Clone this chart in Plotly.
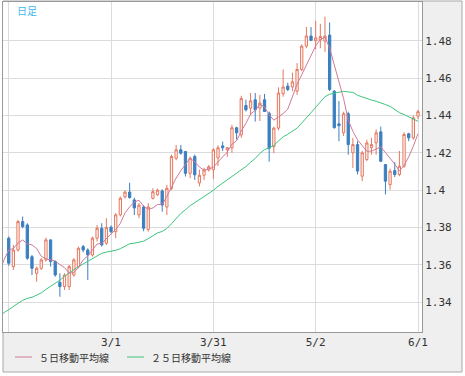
import numpy as np
import pandas as pd
import plotly.graph_objects as go

# ---- data (EUR/USD daily) ----
open_ = [1.3743,1.3591,1.3680,1.3832,1.3814,1.3644,1.3555,1.3582,1.3627,1.3734,
         1.3618,1.3507,1.3484,1.3484,1.3546,1.3591,1.3698,1.3680,1.3653,1.3743,
         1.3796,1.3716,1.3802,1.3778,1.3868,1.3964,1.3990,1.3948,1.3868,1.3910,
         1.3790,1.3956,1.3975,1.3996,1.3910,1.4010,1.4171,1.4216,1.4207,1.4090,
         1.4180,1.4039,1.4080,1.4108,1.4110,1.4173,1.4237,1.4216,1.4227,1.4334,
         1.4296,1.4453,1.4439,1.4484,1.4439,1.4484,1.4412,1.4233,1.4332,1.4516,
         1.4557,1.4552,1.4530,1.4646,1.4771,1.4825,1.4800,1.4805,1.4798,1.4830,
         1.4530,1.4355,1.4307,1.4409,1.4200,1.4244,1.4075,1.4164,1.4227,1.4253,
         1.4312,1.4137,1.4030,1.4105,1.4084,1.4128,1.4302,1.4280,1.4396]
high = [1.3752,1.3707,1.3841,1.3859,1.3823,1.3653,1.3591,1.3636,1.3746,1.3737,
        1.3623,1.3555,1.3555,1.3600,1.3636,1.3698,1.3707,1.3689,1.3752,1.3814,
        1.3823,1.3850,1.3811,1.3877,1.3966,1.3999,1.4040,1.3960,1.3930,1.3920,
        1.3930,1.4010,1.4008,1.4005,1.4028,1.4190,1.4242,1.4242,1.4210,1.4180,
        1.4190,1.4110,1.4120,1.4135,1.4225,1.4240,1.4260,1.4230,1.4350,1.4340,
        1.4505,1.4484,1.4520,1.4520,1.4510,1.4515,1.4420,1.4340,1.4550,1.4646,
        1.4575,1.4629,1.4680,1.4780,1.4873,1.4873,1.4906,1.4890,1.4929,1.4897,
        1.4535,1.4477,1.4420,1.4420,1.4280,1.4262,1.4210,1.4270,1.4280,1.4325,
        1.4340,1.4140,1.4115,1.4150,1.4210,1.4310,1.4307,1.4400,1.4430]
low = [1.3596,1.3573,1.3671,1.3796,1.3627,1.3546,1.3510,1.3573,1.3618,1.3591,
       1.3537,1.3430,1.3466,1.3466,1.3537,1.3582,1.3668,1.3519,1.3644,1.3725,
       1.3698,1.3707,1.3769,1.3743,1.3859,1.3955,1.3955,1.3867,1.3850,1.3780,
       1.3778,1.3950,1.3970,1.3885,1.3867,1.4001,1.4160,1.4190,1.4073,1.4064,
       1.4055,1.4020,1.4055,1.4100,1.4060,1.4130,1.4210,1.4178,1.4200,1.4270,
       1.4280,1.4421,1.4400,1.4367,1.4370,1.4420,1.4153,1.4198,1.4320,1.4500,
       1.4530,1.4530,1.4510,1.4637,1.4760,1.4798,1.4754,1.4760,1.4740,1.4530,
       1.4330,1.4262,1.4290,1.4190,1.4119,1.4084,1.4048,1.4155,1.4190,1.4190,
       1.4150,1.3977,1.4003,1.4070,1.4075,1.4120,1.4262,1.4270,1.4380]
close = [1.3609,1.3680,1.3832,1.3805,1.3636,1.3582,1.3582,1.3627,1.3734,1.3618,
         1.3546,1.3484,1.3546,1.3591,1.3627,1.3689,1.3680,1.3653,1.3743,1.3796,
         1.3707,1.3800,1.3778,1.3868,1.3957,1.3990,1.3960,1.3905,1.3920,1.3796,
         1.3910,1.3992,1.4000,1.3920,1.4010,1.4180,1.4216,1.4198,1.4090,1.4171,
         1.4082,1.4080,1.4108,1.4125,1.4216,1.4227,1.4227,1.4227,1.4334,1.4307,
         1.4490,1.4430,1.4478,1.4430,1.4466,1.4421,1.4224,1.4332,1.4520,1.4552,
         1.4539,1.4580,1.4646,1.4771,1.4825,1.4802,1.4815,1.4822,1.4825,1.4539,
         1.4334,1.4345,1.4409,1.4244,1.4244,1.4102,1.4200,1.4253,1.4244,1.4307,
         1.4155,1.4048,1.4102,1.4084,1.4128,1.4298,1.4280,1.4387,1.4420]
# closes before the visible window (needed for the moving averages)
prior_close = [1.3180,1.3230,1.3300,1.3360,1.3400,1.3380,1.3440,1.3330,1.3290,1.3260,
               1.3230,1.3200,1.2990,1.3020,1.3090,1.3240,1.3290,1.3310,1.3330,1.3360,
               1.3440,1.3350,1.3640,1.3686,1.3720,1.3744]
start_date = "2011-01-28"
tick_labels = ["3/1", "3/31", "5/2", "6/1"]
y_ticks = [1.34, 1.36, 1.38, 1.40, 1.42, 1.44, 1.46, 1.48]
ma5_name = "５日移動平均線"
ma25_name = "２５日移動平均線"

# ---- derived ----
n = len(close)
dates = pd.bdate_range(start_date, periods=n)
date_labels = [f"{d.month}/{d.day}" for d in dates]
x = np.arange(n)
all_close = pd.Series(prior_close + close)
x_all = np.arange(-len(prior_close), n)
ma5 = all_close.rolling(5).mean()
ma25 = all_close.rolling(25).mean()

tickvals = [0] + [date_labels.index(t) for t in tick_labels]
ticktext = [""] + tick_labels

W, H = 465, 376
L, R, T, B = 3, 422, 2, 332
def px(X):
    return (X - L) / (R - L)
def py(Y):
    return (B - Y) / (B - T)

UP = "#e5775f"
DOWN = "#3b7fc0"
C5 = "#d07a98"
C25 = "#3cc47e"

fig = go.Figure()
fig.add_trace(go.Scatter(x=x_all, y=ma25, mode="lines", name=ma25_name,
                         line=dict(color=C25, width=1), showlegend=False,
                         hoverinfo="skip"))
fig.add_trace(go.Candlestick(x=x, open=open_, high=high, low=low, close=close,
                             increasing=dict(line=dict(color=UP, width=1), fillcolor="#fff6f3"),
                             decreasing=dict(line=dict(color=DOWN, width=1), fillcolor=DOWN),
                             showlegend=False, text=date_labels))
fig.add_trace(go.Scatter(x=x_all, y=ma5, mode="lines", name=ma5_name,
                         line=dict(color=C5, width=1), showlegend=False,
                         hoverinfo="skip"))

shapes = [
    dict(type="rect", xref="paper", yref="paper", x0=px(3), x1=px(462), y0=py(1), y1=py(372),
         line=dict(color="#a8a8a8", width=1), fillcolor="#efefef", layer="below"),
    dict(type="rect", xref="paper", yref="paper", x0=px(3), x1=px(422), y0=py(2), y1=py(332),
         line=dict(width=0), fillcolor="white", layer="below"),
    dict(type="line", xref="paper", yref="paper", x0=px(15), x1=px(32), y0=py(357), y1=py(357),
         line=dict(color=C5, width=1)),
    dict(type="line", xref="paper", yref="paper", x0=px(127), x1=px(144), y0=py(357), y1=py(357),
         line=dict(color=C25, width=1)),
]
legfont = dict(family="Noto Sans CJK JP", size=10, color="#333333")
annotations = [
    dict(text=ma5_name, xref="paper", yref="paper", x=px(37), y=py(357), xanchor="left",
         yanchor="middle", showarrow=False, font=legfont),
    dict(text=ma25_name, xref="paper", yref="paper", x=px(149), y=py(357), xanchor="left",
         yanchor="middle", showarrow=False, font=legfont),
    dict(text="日足", xref="paper", yref="paper", x=px(15), y=py(11), xanchor="left",
         yanchor="middle", showarrow=False,
         font=dict(family="Noto Sans CJK JP", size=10, color="#3fb8ee")),
]

tickfont = dict(family="DejaVu Sans Mono", size=11, color="#333333")
fig.update_layout(
    width=W, height=H,
    margin=dict(l=L, r=W - R, t=T, b=H - B, pad=0),
    paper_bgcolor="white", plot_bgcolor="white",
    shapes=shapes, annotations=annotations,
    showlegend=False,
    xaxis=dict(range=[-1.23, 88.86], tickvals=tickvals, ticktext=ticktext,
               showgrid=True, gridcolor="#dcdcdc", gridwidth=1,
               showline=True, linecolor="#999999", mirror=True,
               ticks="", tickfont=tickfont, rangeslider=dict(visible=False),
               zeroline=False, fixedrange=True, automargin=False),
    yaxis=dict(range=[1.3241, 1.5007], tickvals=y_ticks,
               ticktext=[f"{v:g}" for v in y_ticks], side="right",
               showgrid=True, gridcolor="#dcdcdc", gridwidth=1,
               showline=True, linecolor="#999999", mirror=True,
               ticks="", tickfont=tickfont, zeroline=False, fixedrange=True,
               automargin=False),
)
fig.write_html("out.html", config={"displayModeBar": False},
               post_script="document.body.style.margin='0';document.body.style.padding='0';")
